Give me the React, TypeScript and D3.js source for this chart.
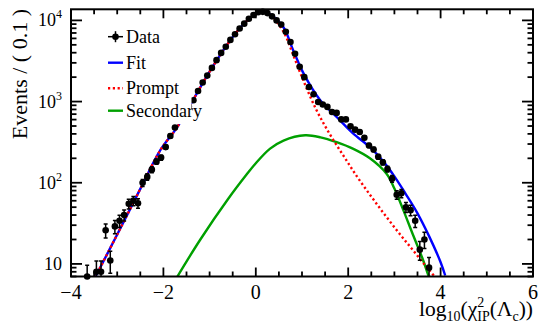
import * as d3 from "d3";

// histogram: bin centres (log10 chi2_IP) and entries per 0.1
const binCenters = [
  -3.65, -3.45, -3.35, -3.25, -3.15, -3.05, -2.95, -2.85, -2.75, -2.65, -2.55, -2.45,
  -2.35, -2.25, -2.15, -2.05, -1.95, -1.85, -1.75, -1.65, -1.55, -1.45, -1.35, -1.25,
  -1.15, -1.05, -0.95, -0.85, -0.75, -0.65, -0.55, -0.45, -0.35, -0.25, -0.15, -0.05,
  0.05, 0.15, 0.25, 0.35, 0.45, 0.55, 0.65, 0.75, 0.85, 0.95, 1.05, 1.15,
  1.25, 1.35, 1.45, 1.55, 1.65, 1.75, 1.85, 1.95, 2.05, 2.15, 2.25, 2.35,
  2.45, 2.55, 2.65, 2.75, 2.85, 2.95, 3.05, 3.15, 3.25, 3.35, 3.45, 3.55,
  3.65, 3.75,
];
const counts = [
  7, 8, 8, 26, 11, 29, 34, 40, 55, 60, 56, 100,
  118, 145, 182, 204, 275, 376, 479, 590, 725, 870, 1040, 1350,
  1720, 2090, 2600, 3240, 3980, 4730, 5750, 6760, 7940, 9120, 10470, 11640,
  12590, 12740, 12300, 11220, 10000, 8900, 7240, 5430, 3890, 2690, 2000, 1510,
  1230, 990, 920, 860, 745, 725, 603, 603, 495, 451, 422, 359,
  288, 257, 209, 179, 148, 112, 71, 74, 50, 46, 34, 15,
  20, 9,
];

// fit components
const fitX = [-3.48, -3.0, -2.5, -2.07, -1.7, -1.36, -1.0, -0.5, -0.2, 0.0, 0.15, 0.3, 0.595, 0.81, 1.03, 1.39, 1.75, 2.11, 2.47, 2.75, 3.0, 3.25, 3.5, 3.75, 4.0, 4.1];
const fitY = [6.8, 23, 84, 250, 485, 1040, 2340, 6240, 9770, 11900, 12900, 12000, 8300, 4270, 2240, 1047, 646, 403, 275, 186, 120, 72, 42, 22, 10.5, 7.2];

const promptX = [-3.48, -3.0, -2.5, -2.07, -1.7, -1.36, -1.0, -0.5, -0.2, 0.0, 0.15, 0.3, 0.6, 0.8, 1.0, 1.3, 1.6, 1.9, 2.2, 2.5, 2.8, 3.1, 3.4, 3.7, 3.95];
const promptY = [6.8, 23, 84, 250, 485, 1040, 2340, 6240, 9770, 11800, 12800, 12000, 7240, 3890, 2000, 813, 398, 214, 117, 67.6, 39.8, 24, 14.8, 9.1, 6.2];

const secondaryX = [-1.71, -1.2, -0.6, -0.2, 0.0, 0.31, 0.6, 1.07, 1.4, 1.75, 2.1, 2.47, 2.83, 3.0, 3.2, 3.4, 3.6, 3.75];
const secondaryY = [6.8, 20, 63, 126, 174, 263, 331, 384, 363, 316, 263, 200, 129, 85, 45, 23, 12, 6.8];

const legendLabels = ["Data", "Fit", "Prompt", "Secondary"];

const W = 541;
const H = 326;
const left = 71, right = 533, top = 9.3, bottom = 276.5;
const FONT = "'Liberation Serif', 'DejaVu Serif', serif";
const BLUE = "#0000ff";
const RED = "#ff0000";
const GREEN = "#00a000";

export default function App() {
  const x = d3.scaleLinear().domain([-4, 6]).range([left, right]);
  const y = d3.scaleLog().domain([7, 13700]).range([bottom, top]);

  const line = d3
    .line<[number, number]>()
    .x((d) => x(d[0]))
    .y((d) => y(d[1]))
    .curve(d3.curveCatmullRom.alpha(0.5));

  const fitPath = line(fitX.map((v, i) => [v, fitY[i]]));
  const promptPath = line(promptX.map((v, i) => [v, promptY[i]]));
  const secondaryPath = line(secondaryX.map((v, i) => [v, secondaryY[i]]));

  const xMajor = x.ticks(5);
  const xMinor = x.ticks(20).filter((t) => !xMajor.includes(t));
  const yTicks = y.ticks();
  const isDecade = (v: number) => Math.abs(Math.log10(v) - Math.round(Math.log10(v))) < 1e-9;
  const fmtX = d3.format("d");

  const points = binCenters.map((c, i) => ({ c, n: counts[i], e: Math.sqrt(counts[i]) }));

  const legendY = [36.7, 62.7, 88.3, 110.7];

  return (
    <svg width={W} height={H} style={{ position: "absolute", left: 0, top: 0 }} fontFamily={FONT}>
      <defs>
        <clipPath id="plot">
          <rect x={left} y={top} width={right - left} height={bottom - top} />
        </clipPath>
      </defs>
      <rect width={W} height={H} fill="#fff" />

      <g clipPath="url(#plot)">
        <path d={secondaryPath ?? ""} fill="none" stroke={GREEN} strokeWidth={2.4} />
        <path d={fitPath ?? ""} fill="none" stroke={BLUE} strokeWidth={2.4} />
        <path d={promptPath ?? ""} fill="none" stroke={RED} strokeWidth={2.4} strokeDasharray="2.2 2.6" />
        {points.map((p, i) => {
          const lo = Math.max(p.n - p.e, 1);
          const yl = Math.min(y(lo), bottom + 5);
          const yh = y(p.n + p.e);
          return (
            <g key={i} stroke="#000" strokeWidth={1.5}>
              <line x1={x(p.c)} x2={x(p.c)} y1={yl} y2={yh} />
              <line x1={x(p.c) - 2} x2={x(p.c) + 2} y1={yh} y2={yh} />
              {y(lo) < bottom && <line x1={x(p.c) - 2} x2={x(p.c) + 2} y1={yl} y2={yl} />}
              <line x1={x(p.c - 0.05)} x2={x(p.c + 0.05)} y1={y(p.n)} y2={y(p.n)} />
            </g>
          );
        })}
      </g>
      {points.map((p, i) => (
        <circle key={i} cx={x(p.c)} cy={y(p.n)} r={3.3} fill="#000" />
      ))}

      {/* legend box covers what is under it */}
      <rect x={95} y={22} width={96.5} height={102} fill="#fff" />
      <g>
        <line x1={108} x2={123} y1={legendY[0]} y2={legendY[0]} stroke="#000" strokeWidth={1.5} />
        <line x1={115.5} x2={115.5} y1={legendY[0] - 5.5} y2={legendY[0] + 5.5} stroke="#000" strokeWidth={1.5} />
        <circle cx={115.5} cy={legendY[0]} r={3.3} fill="#000" />
        <line x1={108} x2={123} y1={legendY[1]} y2={legendY[1]} stroke={BLUE} strokeWidth={2.4} />
        <line x1={108} x2={123} y1={legendY[2]} y2={legendY[2]} stroke={RED} strokeWidth={2.4} strokeDasharray="2.2 2.6" />
        <line x1={108} x2={123} y1={legendY[3]} y2={legendY[3]} stroke={GREEN} strokeWidth={2.4} />
        {legendLabels.map((l, i) => (
          <text key={l} x={126} y={legendY[i] + 6} fontSize={18}>
            {l}
          </text>
        ))}
      </g>

      {/* frame and ticks */}
      <rect x={left} y={top} width={right - left} height={bottom - top} fill="none" stroke="#000" strokeWidth={2} />
      <g stroke="#000" strokeWidth={1.8}>
        {xMajor.map((t) => (
          <g key={"M" + t}>
            <line x1={x(t)} x2={x(t)} y1={bottom} y2={bottom - 9} />
            <line x1={x(t)} x2={x(t)} y1={top} y2={top + 9} />
          </g>
        ))}
        {xMinor.map((t) => (
          <g key={"m" + t}>
            <line x1={x(t)} x2={x(t)} y1={bottom} y2={bottom - 5} />
            <line x1={x(t)} x2={x(t)} y1={top} y2={top + 5} />
          </g>
        ))}
        {yTicks.map((t) => {
          const len = isDecade(t) ? 11 : 5.5;
          return (
            <g key={"y" + t}>
              <line x1={left} x2={left + len} y1={y(t)} y2={y(t)} />
              <line x1={right} x2={right - len} y1={y(t)} y2={y(t)} />
            </g>
          );
        })}
      </g>

      {xMajor.map((t) => (
        <text key={"xl" + t} x={x(t)} y={298.5} fontSize={20} textAnchor="middle">
          {fmtX(t)}
        </text>
      ))}
      {yTicks.filter(isDecade).map((t) => {
        const p = Math.round(Math.log10(t));
        return (
          <text key={"yl" + t} x={62} y={y(t) + 6} fontSize={18} textAnchor="end">
            10
            {p > 1 && (
              <tspan fontSize={12} dy={-8}>
                {p}
              </tspan>
            )}
          </text>
        );
      })}

      <text transform="translate(27,9) rotate(-90)" fontSize={22} textAnchor="end">
        Events / ( 0.1 )
      </text>

      <text x={533} y={316} fontSize={21.5} textAnchor="end">
        log
        <tspan fontSize={14} dy={5}>10</tspan>
        <tspan dy={-5}>(χ</tspan>
        <tspan fontSize={14} dy={-9}>2</tspan>
        <tspan fontSize={14} dx={-7} dy={14}>IP</tspan>
        <tspan dy={-5}>(Λ</tspan>
        <tspan fontSize={14} dy={5}>c</tspan>
        <tspan dy={-5}>))</tspan>
      </text>
    </svg>
  );
}
